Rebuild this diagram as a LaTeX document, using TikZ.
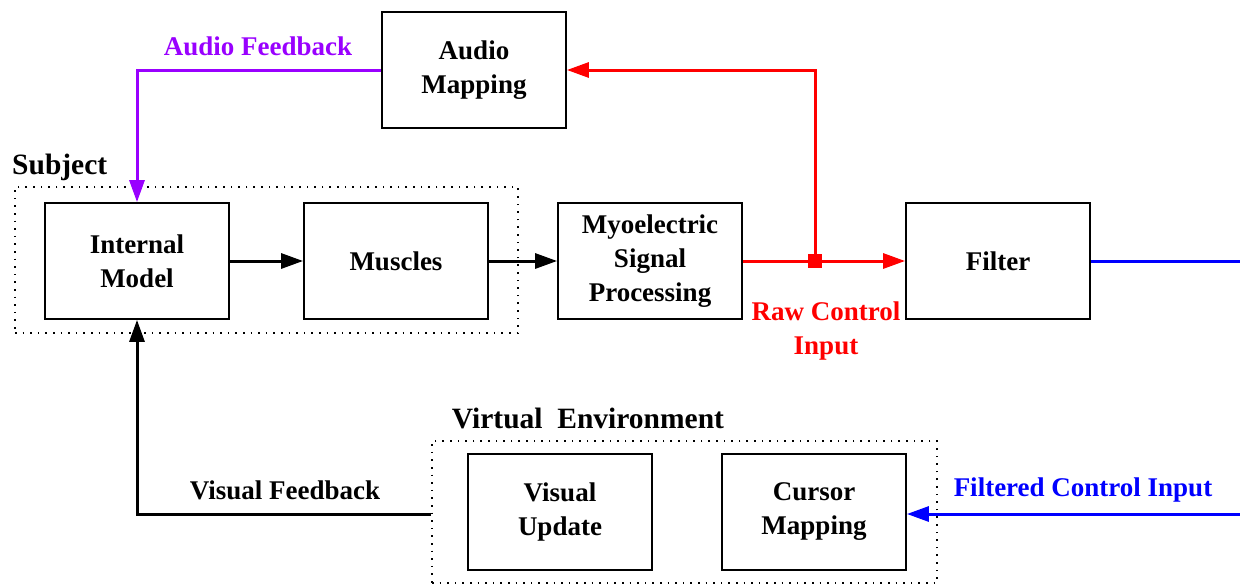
\documentclass[tikz,border=0pt]{standalone}
\usepackage{fontspec}
\setmainfont{Liberation Serif}
\usetikzlibrary{arrows.meta}
\definecolor{fbpurple}{RGB}{153,0,255}
\definecolor{fbred}{RGB}{255,0,0}
\definecolor{fbblue}{RGB}{0,0,255}
\tikzset{
  blk/.style={draw, line width=1.8pt, minimum width=184pt, minimum height=116pt, inner sep=0pt, align=center,
    font=\bfseries\fontsize{27}{34}\selectfont},
  grp/.style={draw, line width=1.6pt, dash pattern=on 1.6pt off 6pt},
  head/.style={font=\bfseries\fontsize{29.5}{34}\selectfont, inner sep=0pt},
  lbl/.style={font=\bfseries\fontsize{27}{34}\selectfont, inner sep=0pt, align=center},
  conn/.style={line width=3pt, -{Triangle[length=22pt,width=15pt]}},
  plain/.style={line width=3pt},
}
\begin{document}
\begin{tikzpicture}[x=1pt,y=-1pt]
\useasboundingbox (0,0) rectangle (1240,584);
% groups
\node[grp, minimum width=503pt, minimum height=146pt] (subj) at (266.5,260) {};
\node[grp, minimum width=505pt, minimum height=142pt] (venv) at (684.5,512) {};
\node[head, anchor=west] (subjl) at (12,167) {Subject};
\node[head] (venvl) at (588,418) {Virtual\ \ Environment};
% blocks
\node[blk] (am) at (474,70) {Audio\\Mapping};
\node[blk] (im) at (137,261) {Internal\\Model};
\node[blk] (mu) at (396,261) {Muscles};
\node[blk] (my) at (650,261) {Myoelectric\\Signal\\Processing};
\node[blk] (fi) at (998,261) {Filter};
\node[blk] (vu) at (560,512) {Visual\\Update};
\node[blk] (cm) at (814,512) {Cursor\\Mapping};
% junction and edge coordinates
\node[fill=fbred, minimum size=14pt, inner sep=0pt] (jn) at (815,261) {};
\coordinate (eout) at (1240,261);
\coordinate (ein) at (1240,514);
% connectors
\draw[conn] (im) -- (mu);
\draw[conn] (mu) -- (my);
\draw[conn, fbred] (my) -- (fi);
\draw[conn, fbred] (jn.center) |- (am.east);
\draw[conn, fbpurple] (am.west) -| (im.north);
\draw[plain, fbblue] (fi) -- (eout);
\draw[conn, fbblue] (ein) -- (cm.east |- ein);
\draw[conn] (venv.west |- 0,514) -| (im.south);
% labels
\node[lbl, text=fbpurple] (afl) at (258,46) {Audio Feedback};
\node[lbl, text=fbred] (rcl) at (826,331) {Raw Control\\Input};
\node[lbl, text=fbblue] (fcl) at (1083,490) {Filtered Control Input};
\node[lbl] (vfl) at (285,490) {Visual Feedback};
\end{tikzpicture}
\end{document}
